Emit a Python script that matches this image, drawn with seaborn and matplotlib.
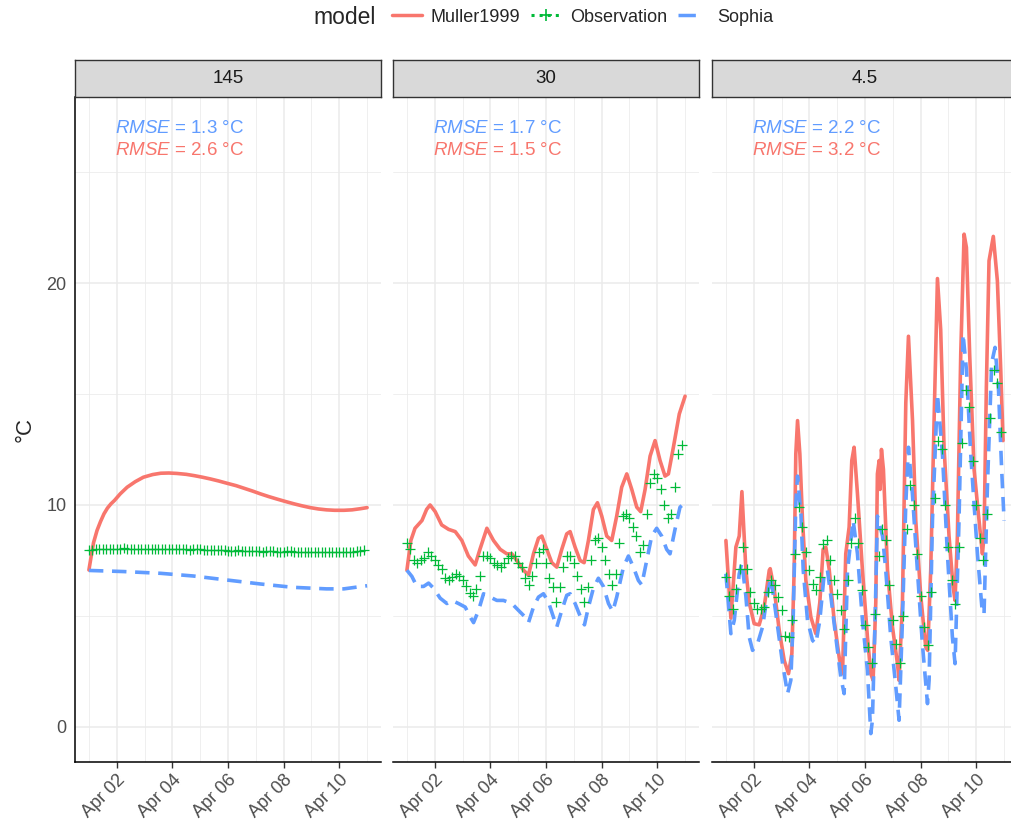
"""Temperatures simulees et observees a trois profondeurs (facettes)."""

import matplotlib

matplotlib.use("Agg")
import matplotlib.dates as mdates
import matplotlib.pyplot as plt
import pandas as pd
import seaborn as sns
from matplotlib.lines import Line2D
from matplotlib.ticker import FixedLocator, MultipleLocator

START = pd.Timestamp("2018-04-01")
DEPTHS = ["145", "30", "4.5"]
RED, GREEN, BLUE = "#F8766D", "#00BA38", "#619CFF"
PALETTE = {"Muller1999": RED, "Sophia": BLUE}

# --- depth 145 -------------------------------------------------------------
MULLER_145_HOURS = [0, 2, 4, 7, 10, 13, 16, 19, 22, 27, 33, 40, 47, 55, 62, 69,
                    76, 84, 91, 98, 105, 112, 119, 127, 134, 141, 148, 155, 162,
                    170, 177, 184, 191, 198, 205, 212, 220, 227, 234, 240]
MULLER_145 = [7.07, 7.7, 8.3, 8.85, 9.25, 9.6, 9.86, 10.05, 10.2, 10.5, 10.8,
              11.05, 11.25, 11.37, 11.43, 11.44, 11.42, 11.38, 11.32, 11.25,
              11.17, 11.08, 10.98, 10.87, 10.75, 10.63, 10.5, 10.38, 10.27,
              10.15, 10.05, 9.96, 9.88, 9.82, 9.78, 9.76, 9.76, 9.78, 9.83, 9.88]
SOPHIA_145_HOURS = [0, 30, 62, 90, 119, 148, 176, 205, 220, 234, 240]
SOPHIA_145 = [7.05, 7.0, 6.92, 6.8, 6.62, 6.44, 6.29, 6.22, 6.22, 6.32, 6.36]
OBS_145 = [7.95, 7.98, 8.00, 8.00, 8.02, 8.03, 8.02, 8.01, 8.00, 8.02,
           8.04, 8.03, 8.02, 8.01, 8.02, 8.03, 8.03, 8.02, 8.01, 8.02,
           8.03, 8.02, 8.02, 8.01, 8.00, 8.02, 8.03, 8.02, 8.00, 7.99,
           8.00, 8.02, 8.01, 7.98, 7.96, 7.95, 7.96, 7.98, 7.97, 7.95,
           7.93, 7.92, 7.94, 7.95, 7.93, 7.91, 7.92, 7.94, 7.93, 7.92,
           7.90, 7.91, 7.93, 7.92, 7.90, 7.89, 7.90, 7.92, 7.91, 7.90,
           7.88, 7.87, 7.88, 7.90, 7.89, 7.87, 7.86, 7.87, 7.88, 7.87,
           7.86, 7.87, 7.88, 7.90, 7.89, 7.88, 7.90, 7.92, 7.93, 7.95]

# --- depth 30 --------------------------------------------------------------
MULLER_30_HOURS = [0, 3.4, 7, 13, 17, 20, 24.4, 30, 36, 41.7, 47.4, 53, 58.9,
                   63, 69, 74.7, 80.5, 86.2, 90.5, 94.8, 100.6, 104.9, 109.2,
                   113.5, 116.4, 120.7, 125, 129.3, 133.6, 137.9, 140.8, 145.1,
                   149.4, 152.9, 156.6, 160.9, 164.4, 168.1, 172.4, 176.7, 181,
                   185.3, 189.7, 194, 198.3, 201.7, 205.5, 209.8, 214.1, 218.4,
                   222.7, 225.6, 229.9, 235, 240]
MULLER_30 = [7.06, 8.4, 8.95, 9.3, 9.8, 10.0, 9.7, 9.1, 8.9, 8.8, 8.4, 7.7, 7.3,
             8.0, 8.95, 8.4, 8.0, 7.8, 7.8, 7.5, 7.06, 6.84, 7.8,
             8.5, 8.6, 8.0, 7.4, 7.2, 8.0, 8.7, 8.8, 8.1,
             7.5, 7.4, 8.4, 9.8, 10.1, 9.5, 8.6, 8.4, 9.5,
             10.8, 11.4, 10.7, 9.9, 9.7, 10.7, 12.2, 12.9, 12.0,
             11.3, 11.4, 12.6, 14.1, 14.9]
SOPHIA_30_HOURS = [0, 4.3, 8.6, 14.4, 18.7, 23, 28.7, 34.5, 38.8, 44.5, 50.3,
                   54.6, 57.5, 61.8, 66.1, 71.8, 77.6, 83.3, 90.5, 96.3, 102,
                   104.9, 109.2, 113.5, 117.8, 122.1, 126.4, 129.3, 133.6, 137.9,
                   140.8, 145.1, 149.4, 153.2, 156.6, 160.9, 165.2, 169.5, 173.9,
                   177.6, 181, 186.8, 191.1, 195.4, 199.7, 202.6, 206.9, 211.2,
                   215.5, 219.8, 224.1, 227, 231.3, 235.6, 240]
SOPHIA_30 = [7.06, 6.78, 6.33, 6.33, 6.48, 6.25, 5.8, 5.56, 5.7, 5.56, 5.4,
             4.95, 4.7, 5.25, 6.0, 5.85, 5.7, 5.7, 5.56, 5.25, 4.95,
             4.7, 5.4, 5.85, 6.0, 5.63, 4.95, 4.5, 5.25, 5.93,
             6.0, 5.56, 5.0, 4.6, 5.4, 6.25, 6.7, 6.33, 5.56,
             5.2, 5.85, 7.2, 7.7, 7.2, 6.6, 6.4, 7.5, 8.6,
             8.95, 8.6, 8.0, 7.8, 8.9, 9.9, 10.1]
OBS_30 = [8.27, 8.0, 7.5, 7.4, 7.5, 7.6, 7.9, 7.7, 7.5, 7.3,
          7.1, 6.7, 6.6, 6.75, 6.9, 6.8, 6.6, 6.35, 6.05, 5.9,
          6.2, 6.8, 7.7, 7.7, 7.6, 7.4, 7.3, 7.2, 7.4, 7.6,
          7.7, 7.7, 7.4, 7.2, 6.7, 6.4, 6.8, 7.4, 7.9, 8.0,
          7.4, 6.7, 6.3, 5.65, 6.3, 7.2, 7.7, 7.7, 7.4, 6.8,
          6.2, 5.65, 6.3, 7.5, 8.4, 8.5, 8.1, 7.5, 6.9, 6.4,
          6.9, 8.3, 9.5, 9.6, 9.4, 9.0, 8.6, 7.9, 8.2, 9.6,
          11.0, 11.4, 11.2, 10.7, 10.0, 9.4, 9.6, 10.8, 12.3, 12.7]

# --- depth 4.5 -------------------------------------------------------------
MULLER_4_5_HOURS = [0, 4.3, 8.6, 11.5, 13.8, 17.2, 20.1, 24.4, 28.7, 33, 37.4,
                    38.2, 41.7, 46, 50.3, 54, 56.9, 58.9, 60.3, 61.8, 63.8, 66.1,
                    69, 73.3, 77.6, 81, 83.9, 86.2, 89.1, 93.4, 97.7, 100.6,
                    103.4, 106.3, 108.6, 110.6, 113.5, 117.8, 122.1, 125, 127,
                    129.3, 130.7, 132.2, 133, 134.2, 135.9, 139.4, 143.7, 148,
                    149.4, 152.3, 155.2, 157.5, 161, 163.8, 168.1, 172.4, 174.1,
                    176.7, 179.6, 182.5, 185.3, 188.2, 192.5, 196, 197.7, 199.7,
                    202.6, 205.5, 207.5, 210.3, 214.1, 218.4, 221.3, 222.7,
                    224.7, 227, 230.7, 234.2, 237.1, 239.1]
MULLER_4_5 = [8.4, 4.9, 8.1, 8.6, 10.6, 7.1, 5.6, 4.65, 4.6, 5.4, 7.06,
              7.13, 6.2, 4.35, 3.0, 2.4, 3.3, 7.1, 12.3, 13.8, 12.3, 9.3,
              6.6, 4.95, 4.2, 5.6, 8.0, 8.1, 7.1, 4.8, 3.15, 2.4,
              7.8, 9.0, 12.0, 12.6, 10.5, 7.06, 4.05, 2.4, 2.1,
              5.6, 11.4, 12.0, 10.7, 12.5, 11.6, 7.06, 4.5, 2.85,
              2.1, 5.6, 14.6, 17.6, 13.8, 9.3, 5.9, 3.6, 3.45,
              7.06, 13.8, 20.2, 17.9, 12.6, 8.6, 6.3, 5.7, 8.6,
              16.8, 22.2, 21.6, 16.8, 11.6, 9.3, 7.8, 8.6,
              15.3, 21.0, 22.1, 20.1, 16.1, 12.9]
SOPHIA_4_5_HOURS = [0, 4.3, 7.2, 11.5, 13.8, 17.2, 20.1, 23, 27.3, 31.6, 35.9,
                    38.8, 43.1, 48.9, 53.2, 56, 58, 60.3, 61.8, 64.7, 66.7, 70.4,
                    74.7, 77.6, 81, 84.8, 87.6, 90.5, 94.8, 99.1, 102, 104.9,
                    107.8, 109.8, 113.5, 117.8, 122.1, 125, 126.4, 128.7, 130.7,
                    135.1, 137.9, 142.2, 146.6, 149.4, 152.3, 155.2, 157.5,
                    160.9, 165.2, 169.5, 173.9, 175.3, 178.2, 182.5, 186.8,
                    191.1, 195.4, 197.7, 201.1, 204.6, 207.5, 211.2, 217, 221.3,
                    222.7, 225.6, 229.3, 232.2, 235.1, 237.9, 240]
SOPHIA_4_5 = [6.9, 4.2, 4.8, 6.9, 7.4, 5.9, 4.05, 3.45, 3.75, 4.5, 6.0,
              6.75, 5.1, 2.85, 1.5, 2.1, 4.8, 10.06, 11.3, 9.6, 7.06, 4.8,
              3.9, 3.75, 4.8, 6.9, 7.06, 5.9, 4.05, 2.25, 1.5, 7.06,
              8.4, 9.3, 7.8, 4.8, 2.55, -0.3, 0.3, 4.8, 9.5,
              8.6, 7.06, 4.05, 1.8, 0.3, 4.8, 10.06, 12.6,
              10.5, 7.06, 3.75, 1.05, 2.1, 9.3, 15.0, 12.3,
              7.8, 4.05, 2.85, 9.3, 17.7, 16.1, 12.3, 7.8, 5.1,
              5.1, 10.8, 16.4, 17.1, 15.3, 11.6, 9.3]
OBS_4_5 = [6.75, 5.9, 5.3, 6.2, 7.1, 8.1, 7.1, 6.1, 5.6, 5.3,
           5.3, 5.4, 6.1, 6.6, 6.4, 5.85, 5.25, 4.1, 4.05, 4.8,
           7.8, 9.9, 9.0, 7.9, 7.06, 6.45, 6.15, 6.75, 8.25, 8.4,
           7.5, 6.6, 6.0, 5.25, 4.4, 6.6, 8.3, 9.4, 8.3, 6.15,
           4.6, 3.6, 2.9, 5.1, 7.7, 8.9, 8.4, 6.4, 4.8, 3.75,
           2.9, 5.0, 8.9, 10.9, 10.0, 7.8, 5.9, 4.5, 3.7, 6.1,
           10.3, 12.9, 12.5, 10.0, 8.1, 6.6, 5.55, 8.1, 12.8, 15.2,
           14.4, 12.0, 10.0, 8.5, 7.5, 9.6, 13.9, 16.1, 15.5, 13.3]
OBS_STEP_HOURS = 3

RMSE_SOPHIA = [1.3, 1.7, 2.2]
RMSE_MULLER = [2.6, 1.5, 3.2]


def series_frame(depth, model, hours, values):
    return pd.DataFrame({
        "depth": depth,
        "model": model,
        "time": START + pd.to_timedelta(hours, unit="h"),
        "value": values,
    })


def build_frames():
    lines = pd.concat([
        series_frame("145", "Muller1999", MULLER_145_HOURS, MULLER_145),
        series_frame("145", "Sophia", SOPHIA_145_HOURS, SOPHIA_145),
        series_frame("30", "Muller1999", MULLER_30_HOURS, MULLER_30),
        series_frame("30", "Sophia", SOPHIA_30_HOURS, SOPHIA_30),
        series_frame("4.5", "Muller1999", MULLER_4_5_HOURS, MULLER_4_5),
        series_frame("4.5", "Sophia", SOPHIA_4_5_HOURS, SOPHIA_4_5),
    ], ignore_index=True)
    obs_parts = []
    for depth, values in zip(DEPTHS, [OBS_145, OBS_30, OBS_4_5]):
        hours = [OBS_STEP_HOURS * k for k in range(len(values))]
        obs_parts.append(series_frame(depth, "Observation", hours, values))
    return lines, pd.concat(obs_parts, ignore_index=True)


def px(x, y, w, h, fig_w=1012, fig_h=825):
    """Boite en pixels (origine en haut a gauche) -> fraction de figure."""
    return [x / fig_w, 1 - (y + h) / fig_h, w / fig_w, h / fig_h]


def main():
    sns.set_style("white")
    plt.rcParams["font.family"] = ["Liberation Sans", "DejaVu Sans"]
    plt.rcParams["mathtext.fontset"] = "custom"
    plt.rcParams["mathtext.rm"] = "Liberation Sans"
    plt.rcParams["mathtext.it"] = "Liberation Sans:italic"

    lines, obs = build_frames()

    fig = plt.figure(figsize=(10.12, 8.25), dpi=100)
    panel_lefts = [75, 393, 712]
    panel_w = 306

    x_min = START - pd.Timedelta(hours=12)
    x_max = START + pd.Timedelta(hours=252)

    for i, depth in enumerate(DEPTHS):
        ax = fig.add_axes(px(panel_lefts[i], 97, panel_w, 665))

        sns.lineplot(
            data=lines[lines["depth"] == depth], x="time", y="value",
            hue="model", style="model", hue_order=["Muller1999", "Sophia"],
            style_order=["Muller1999", "Sophia"], palette=PALETTE,
            dashes={"Muller1999": "", "Sophia": (4, 2.4)},
            linewidth=2.6, estimator=None, sort=False, legend=False, ax=ax,
        )
        for line in ax.get_lines():
            line.set_dash_capstyle("butt")
            line.set_solid_joinstyle("round")
        sns.scatterplot(
            data=obs[obs["depth"] == depth], x="time", y="value",
            color=GREEN, marker="+", s=52, linewidth=0.9, legend=False,
            ax=ax, zorder=4,
        )

        ax.text(0.131, 0.953, rf"$\mathit{{RMSE}}$ = {RMSE_SOPHIA[i]} °C",
                transform=ax.transAxes, color=BLUE, fontsize=13.5, va="center")
        ax.text(0.131, 0.919, rf"$\mathit{{RMSE}}$ = {RMSE_MULLER[i]} °C",
                transform=ax.transAxes, color=RED, fontsize=13.5, va="center")

        ax.set_xlim(x_min, x_max)
        ax.set_ylim(-1.58, 28.38)
        ax.xaxis.set_major_locator(mdates.DayLocator(bymonthday=[2, 4, 6, 8, 10]))
        ax.xaxis.set_minor_locator(mdates.DayLocator(bymonthday=[1, 3, 5, 7, 9, 11]))
        ax.xaxis.set_major_formatter(mdates.DateFormatter("%b %d"))
        ax.yaxis.set_major_locator(FixedLocator([0, 10, 20]))
        ax.yaxis.set_minor_locator(MultipleLocator(5))
        ax.set_axisbelow(True)
        ax.grid(which="major", color="#EBEBEB", linewidth=1.1)
        ax.grid(which="minor", color="#EBEBEB", linewidth=0.55)
        ax.set_xlabel("")
        ax.set_ylabel("")

        for side in ["top", "right"]:
            ax.spines[side].set_visible(False)
        ax.spines["bottom"].set_color("black")
        ax.spines["bottom"].set_linewidth(1.1)
        if i == 0:
            ax.spines["left"].set_color("black")
            ax.spines["left"].set_linewidth(1.1)
            ax.tick_params(axis="y", which="major", length=4, width=1,
                           color="#333333", labelsize=13, labelcolor="#4D4D4D", pad=2)
        else:
            ax.spines["left"].set_visible(False)
            ax.tick_params(axis="y", which="both", left=False, labelleft=False)
        ax.tick_params(axis="x", which="major", length=4, width=1, color="#333333",
                       labelsize=13, labelcolor="#4D4D4D", pad=3, bottom=True)
        ax.tick_params(which="minor", length=0)
        plt.setp(ax.get_xticklabels(), rotation=45, ha="right",
                 rotation_mode="anchor")

        strip = fig.add_axes(px(panel_lefts[i], 60, panel_w, 37))
        strip.set_facecolor("#D9D9D9")
        strip.set_xticks([])
        strip.set_yticks([])
        for spine in strip.spines.values():
            spine.set_color("#333333")
            spine.set_linewidth(1.0)
        strip.text(0.5, 0.5, depth, ha="center", va="center", fontsize=13.5,
                   color="#1A1A1A", transform=strip.transAxes)

    fig.text(25 / 1012, 1 - 430 / 825, "°C", rotation=90, ha="center",
             va="center", fontsize=16)

    handles = [
        Line2D([], [], color=RED, linewidth=2.5),
        Line2D([], [], color=GREEN, linewidth=2.2, linestyle=":", marker="+",
               markersize=9, markeredgewidth=1.2),
        Line2D([], [], color=BLUE, linewidth=2.5, dashes=(5, 4)),
    ]
    fig.text(313 / 1012, 1 - 17 / 825, "model", fontsize=16.5, ha="left",
             va="center")
    fig.legend(handles, ["Muller1999", "Observation", "Sophia"],
               loc="center left", bbox_to_anchor=(392 / 1012, 1 - 17 / 825),
               ncol=3, frameon=False, fontsize=13, handlelength=1.65,
               handletextpad=0.5, columnspacing=0.6, borderpad=0,
               borderaxespad=0)

    fig.savefig("out.png", dpi=100)
    plt.close(fig)


if __name__ == "__main__":
    main()
